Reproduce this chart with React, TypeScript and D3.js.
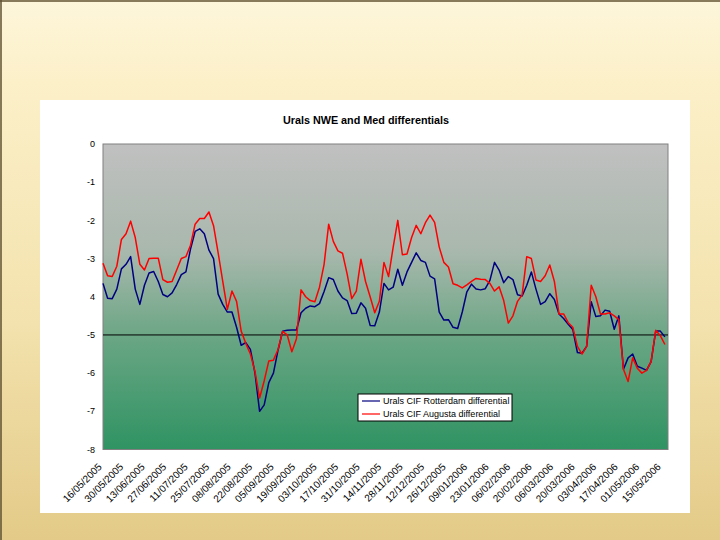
import React from 'react';
import * as d3 from 'd3';

const chartTitle = 'Urals NWE and Med differentials';
const seriesNames = ['Urals CIF Rotterdam differential', 'Urals CIF Augusta differential'];
const startDate = '16/05/2005';
const endDate = '19/05/2006';
const stepDays = 3;

const rotterdam = [
  -3.65, -4.04, -4.05, -3.8, -3.27, -3.15, -2.95, -3.8, -4.2, -3.7,
  -3.38, -3.34, -3.6, -3.94, -4.0, -3.9, -3.68, -3.42, -3.35, -2.75,
  -2.29, -2.22, -2.35, -2.78, -3.0, -3.93, -4.2, -4.4, -4.4, -4.8,
  -5.27, -5.2, -5.38, -6.0, -7.0, -6.83, -6.25, -6.0, -5.4, -4.9,
  -4.88, -4.87, -4.87, -4.42, -4.3, -4.24, -4.26, -4.18, -3.86, -3.5,
  -3.55, -3.85, -4.03, -4.1, -4.44, -4.43, -4.16, -4.3, -4.75, -4.76,
  -4.4, -3.65, -3.82, -3.75, -3.28, -3.7, -3.35, -3.1, -2.85, -3.05,
  -3.1, -3.46, -3.53, -4.4, -4.61, -4.6, -4.8, -4.83, -4.4, -3.87,
  -3.67, -3.8, -3.82, -3.79, -3.57, -3.1, -3.3, -3.63, -3.47, -3.55,
  -3.95, -3.98, -3.7, -3.35, -3.8, -4.2, -4.13, -3.92, -4.07, -4.45,
  -4.57, -4.72, -4.86, -5.46, -5.48, -5.3, -4.13, -4.52, -4.5, -4.35,
  -4.38, -4.85, -4.5, -5.9, -5.6, -5.5, -5.82, -5.87, -5.93, -5.7,
  -4.9, -4.9, -5.05,
];

const augusta = [
  -3.12, -3.45, -3.47, -3.2, -2.5, -2.35, -2.02, -2.45, -3.15, -3.3,
  -3.0, -2.99, -2.99, -3.55, -3.62, -3.6, -3.3, -3.0, -2.95, -2.65,
  -2.1, -1.95, -1.95, -1.78, -2.14, -2.85, -3.6, -4.33, -3.85, -4.12,
  -4.9, -5.22, -5.5, -5.96, -6.65, -6.2, -5.68, -5.66, -5.38, -4.91,
  -5.0, -5.44, -5.1, -3.82, -4.0, -4.1, -4.13, -3.75, -3.15, -2.1,
  -2.55, -2.8, -2.86, -3.4, -4.05, -3.85, -3.02, -3.6, -4.0, -4.42,
  -4.12, -3.1, -3.47, -2.7, -2.0, -2.9, -2.88, -2.45, -2.13, -2.35,
  -2.06, -1.86, -2.05, -2.7, -3.1, -3.22, -3.66, -3.7, -3.77, -3.69,
  -3.6, -3.52, -3.54, -3.55, -3.65, -3.85, -3.74, -4.1, -4.69, -4.5,
  -4.12, -3.95, -2.95, -3.0, -3.56, -3.6, -3.45, -3.17, -3.6, -4.45,
  -4.45, -4.68, -4.8, -5.3, -5.5, -5.3, -3.7, -4.0, -4.45, -4.45,
  -4.42, -4.5, -4.6, -5.9, -6.22, -5.6, -5.87, -6.0, -5.93, -5.7,
  -4.88, -5.02, -5.25,
];

const yTickValues = [0, -1, -2, -3, -4, -5, -6, -7, -8];
const yTickLabels = ['0', '-1', '-2', '-3', '4', '-5', '-6', '-7', '-8'];
const referenceLevel = -5;

const xTickLabels = [
  '16/05/2005', '30/05/2005', '13/06/2005', '27/06/2005', '11/07/2005', '25/07/2005',
  '08/08/2005', '22/08/2005', '05/09/2005', '19/09/2005', '03/10/2005', '17/10/2005',
  '31/10/2005', '14/11/2005', '28/11/2005', '12/12/2005', '26/12/2005', '09/01/2006',
  '23/01/2006', '06/02/2006', '20/02/2006', '06/03/2006', '20/03/2006', '03/04/2006',
  '17/04/2006', '01/05/2006', '15/05/2006',
];

const seriesColors = ['#000080', '#ff0000'];

export default function App() {
  const parse = d3.timeParse('%d/%m/%Y');
  const d0 = parse(startDate) as Date;
  const d1 = parse(endDate) as Date;

  const plot = { left: 103, right: 668, top: 144, bottom: 449.5 };
  const x = d3.scaleTime().domain([d0, d1]).range([plot.left, plot.right]);
  const y = d3.scaleLinear().domain([0, -8]).range([plot.top, plot.bottom]);

  const toPoints = (vals: number[]) =>
    vals.map((v, i) => ({ date: d3.timeDay.offset(d0, i * stepDays), value: v }));

  const line = d3
    .line<{ date: Date; value: number }>()
    .x((d) => x(d.date))
    .y((d) => y(d.value));

  const series = [toPoints(rotterdam), toPoints(augusta)];

  const font = "'Liberation Sans', Arial, Helvetica, sans-serif";

  return (
    <svg
      width={720}
      height={540}
      style={{ position: 'absolute', left: 0, top: 0, display: 'block' }}
      fontFamily={font}
    >
      <defs>
        <linearGradient id="bgGrad" x1="0" y1="0" x2="0" y2="1">
          <stop offset="0" stopColor="#fdf6da" />
          <stop offset="0.15" stopColor="#fcf0c9" />
          <stop offset="0.6" stopColor="#f3e2ad" />
          <stop offset="1" stopColor="#e3ca88" />
        </linearGradient>
        <linearGradient id="plotGrad" x1="0" y1="0" x2="0" y2="1">
          <stop offset="0" stopColor="#c0c0c0" />
          <stop offset="0.35" stopColor="#a9b8ad" />
          <stop offset="0.65" stopColor="#67a582" />
          <stop offset="1" stopColor="#2f9362" />
        </linearGradient>
      </defs>

      <rect x={0} y={0} width={720} height={540} fill="url(#bgGrad)" />
      <line x1={0} y1={1} x2={720} y2={1} stroke="#5e5030" strokeWidth={1.5} />
      <line x1={1} y1={0} x2={1} y2={540} stroke="#5e5030" strokeWidth={1.5} />

      <rect x={40} y={100} width={650} height={413} fill="#ffffff" />

      <text x={366} y={124} textAnchor="middle" fontSize={10.8} fontWeight="bold" fill="#000">
        {chartTitle}
      </text>

      <rect
        x={plot.left}
        y={plot.top}
        width={plot.right - plot.left}
        height={plot.bottom - plot.top}
        fill="url(#plotGrad)"
        stroke="#808080"
        strokeWidth={1}
      />

      <line
        x1={plot.left}
        x2={plot.right}
        y1={y(referenceLevel)}
        y2={y(referenceLevel)}
        stroke="#000"
        strokeWidth={1}
      />

      {series.map((s, k) => (
        <path key={k} d={line(s) || ''} fill="none" stroke={seriesColors[k]} strokeWidth={1.5} strokeLinejoin="round" />
      ))}

      {yTickValues.map((v, i) => (
        <text key={i} x={95} y={y(v)} dy="0.35em" textAnchor="end" fontSize={9} fill="#000">
          {yTickLabels[i]}
        </text>
      ))}

      {xTickLabels.map((lab, i) => {
        const px = x(parse(lab) as Date) - 3;
        const py = 465;
        return (
          <text
            key={i}
            x={px}
            y={py}
            dy="0.35em"
            textAnchor="end"
            fontSize={10}
            fill="#000"
            transform={`rotate(-45 ${px} ${py})`}
          >
            {lab}
          </text>
        );
      })}

      <g>
        <rect x={358} y={394} width={154} height={27} fill="#ffffff" stroke="#000" strokeWidth={1} />
        {seriesNames.map((n, i) => (
          <g key={i}>
            <line x1={362} x2={380} y1={401 + i * 13} y2={401 + i * 13} stroke={seriesColors[i]} strokeWidth={1.2} />
            <text x={383} y={401 + i * 13} dy="0.35em" fontSize={9} fill="#000">
              {n}
            </text>
          </g>
        ))}
      </g>
    </svg>
  );
}
